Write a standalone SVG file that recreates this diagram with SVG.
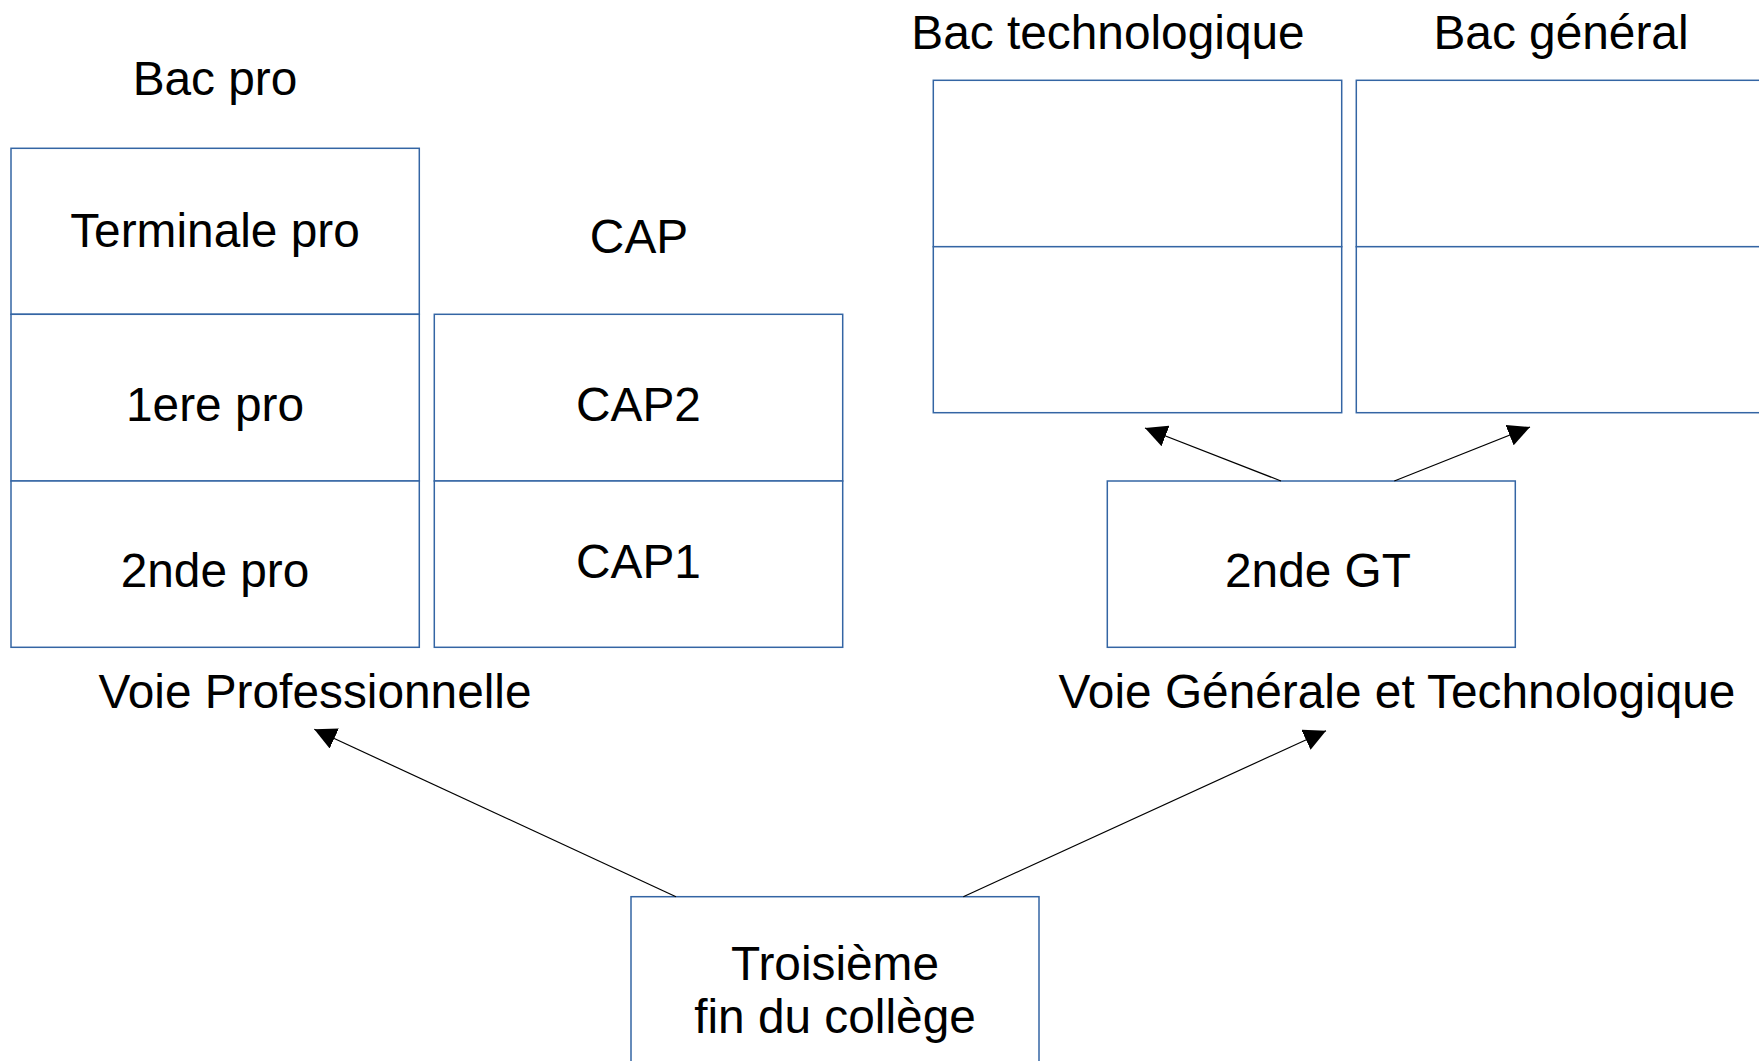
<svg xmlns="http://www.w3.org/2000/svg" width="1759" height="1061" viewBox="0 0 1759 1061">
<defs>
<style>
.box{fill:#ffffff;stroke:#3465a4;stroke-width:1.5}
.t{font-family:"Liberation Sans",Arial,sans-serif;font-size:47.8px;fill:#000000;text-anchor:middle}
.conn{stroke:#000000;stroke-width:1.2;fill:none;marker-end:url(#arr)}
</style>
<marker id="arr" viewBox="0 0 22 22" refX="22" refY="11" markerWidth="22" markerHeight="22" markerUnits="userSpaceOnUse" orient="auto">
<path d="M0,0 L22,11 L0,22 Z" fill="#000000"/>
</marker>
</defs>
<rect width="1759" height="1061" fill="#ffffff"/>

<g id="label-bac-pro"><text class="t" x="215" y="95">Bac pro</text></g>
<g id="label-cap"><text class="t" x="639" y="253">CAP</text></g>
<g id="label-bac-techno"><text class="t" x="1108" y="49">Bac technologique</text></g>
<g id="label-bac-general"><text class="t" x="1561" y="49">Bac général</text></g>

<g id="terminale-pro"><rect class="box" x="11" y="148.3" width="408.3" height="166"/><text class="t" x="215" y="247">Terminale pro</text></g>
<g id="premiere-pro"><rect class="box" x="11" y="314.3" width="408.3" height="166.7"/><text class="t" x="215" y="421">1ere pro</text></g>
<g id="seconde-pro"><rect class="box" x="11" y="481" width="408.3" height="166.3"/><text class="t" x="215" y="587">2nde pro</text></g>

<g id="cap2"><rect class="box" x="434.3" y="314.3" width="408.4" height="166.7"/><text class="t" x="638.5" y="421">CAP2</text></g>
<g id="cap1"><rect class="box" x="434.3" y="481" width="408.4" height="166.3"/><text class="t" x="638.5" y="578">CAP1</text></g>

<g id="bac-techno-2"><rect class="box" x="933.3" y="80.3" width="408.4" height="166.4"/></g>
<g id="bac-techno-1"><rect class="box" x="933.3" y="246.7" width="408.4" height="166"/></g>
<g id="bac-general-2"><rect class="box" x="1356.3" y="80.3" width="408.4" height="166.4"/></g>
<g id="bac-general-1"><rect class="box" x="1356.3" y="246.7" width="408.4" height="166"/></g>

<g id="seconde-gt"><rect class="box" x="1107.3" y="481" width="408" height="166.3"/><text class="t" x="1318" y="587">2nde GT</text></g>

<g id="voie-pro"><text class="t" x="315" y="708">Voie Professionnelle</text></g>
<g id="voie-gt"><text class="t" x="1397" y="708">Voie Générale et Technologique</text></g>

<g id="troisieme"><rect class="box" x="631" y="896.7" width="408" height="166"/><text class="t" x="835" y="980">Troisième</text><text class="t" x="835" y="1033">fin du collège</text></g>

<g id="connectors">
<line class="conn" x1="676" y1="896.7" x2="314.3" y2="729.3"/>
<line class="conn" x1="963.3" y1="896.7" x2="1326" y2="730.7"/>
<line class="conn" x1="1281" y1="481" x2="1145" y2="428"/>
<line class="conn" x1="1394.3" y1="481" x2="1530" y2="427"/>
</g>
</svg>
